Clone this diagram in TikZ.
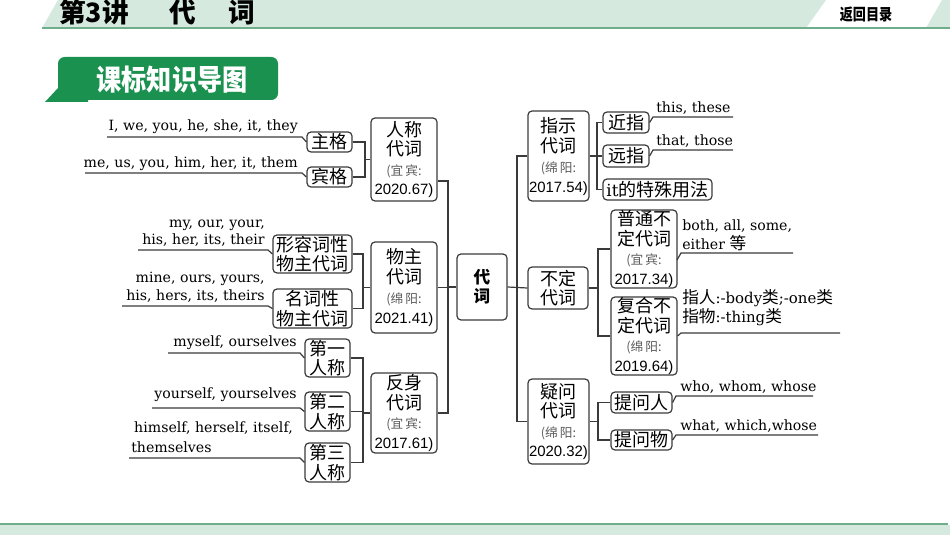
\documentclass[tikz,border=0pt]{standalone}
\usepackage{fontspec}
\setmainfont{DejaVu Serif}
\newfontfamily\cjk{Noto Sans CJK SC}
\newfontfamily\numf{Liberation Sans}
\definecolor{hdr}{HTML}{D5E9DF}
\definecolor{hdrline}{HTML}{6FAE8C}
\definecolor{labg}{HTML}{1B9150}
\definecolor{linec}{HTML}{3A3A3A}
\definecolor{srcc}{HTML}{5A5A5A}
\newcommand\mysrc[1]{{\color{srcc}\cjk\fontsize{9.5}{14.8}\selectfont #1}}
\newcommand\mynum[1]{{\numf\fontsize{11.2}{14.8}\selectfont #1}}
\newcommand\zh[1]{{\cjk\fontsize{12.5}{12}\selectfont #1}}
\tikzset{
  box/.style={draw=linec, line width=0.9pt, rounded corners=3pt, inner sep=0pt,
    align=center, font=\cjk\fontsize{13.5}{14.6}\selectfont},
  conn/.style={draw=linec, line width=0.9pt},
  en/.style={inner sep=0pt, font=\fontsize{10.6}{12}\selectfont, text=black},
}
\begin{document}
\begin{tikzpicture}[x=0.75pt,y=-0.75pt]
\useasboundingbox (0,0) rectangle (950,535);
% header
\fill[hdr] (42,28) -- (58,0) -- (826,0) -- (806,28) -- cycle;
\fill[hdr] (926,28) -- (942,0) -- (950,0) -- (950,28) -- cycle;
\draw[hdrline, line width=1.5pt] (42,28.5) -- (950,28.5);
\node[font=\cjk\bfseries\fontsize{20}{20}\selectfont, inner sep=0pt] (title1) at (94,12.5) {第3讲};
\node[font=\cjk\bfseries\fontsize{20}{20}\selectfont, inner sep=0pt] (title2) at (182.5,12.5) {代};
\node[font=\cjk\bfseries\fontsize{20}{20}\selectfont, inner sep=0pt] (title3) at (241.5,12.5) {词};
\node[font=\cjk\bfseries\fontsize{12}{12}\selectfont, inner sep=0pt] (back) at (866,15) {\scalebox{0.82}[1]{返回目录}};
% footer
\fill[hdr] (0,525) rectangle (950,535);
\draw[hdrline, line width=1.5pt] (0,524) -- (948,524);
% label
\fill[labg] (58,88) -- (45,102) -- (88,102) -- (88,95) -- cycle;
\fill[labg, rounded corners=5pt] (58,57) rectangle (278,100);
\node[font=\cjk\bfseries\fontsize{20.5}{20}\selectfont, text=white, inner sep=0pt] (lab) at (172,80) {\scalebox{0.92}[1.05]{课标知识导图}};

% ===== center =====
\node[box, minimum width=50*0.75pt, minimum height=66*0.75pt, font=\cjk\bfseries\fontsize{12.5}{14.3}\selectfont] (dai) at (482,287) {代\\词};

% ===== left =====
\node[box, minimum width=66*0.75pt, minimum height=83*0.75pt] (renchen) at (404,159.5) {人称\\代词\\\mysrc{(宜\,宾:}\\\mynum{2020.67)}};
\node[box, minimum width=45*0.75pt, minimum height=20*0.75pt] (zhuge) at (329.5,142) {主格};
\node[box, minimum width=45*0.75pt, minimum height=20*0.75pt] (binge) at (329.5,177) {宾格};

\node[box, minimum width=66*0.75pt, minimum height=91*0.75pt, font=\cjk\fontsize{13.5}{15}\selectfont] (wuzhu) at (404,287.5) {物主\\代词\\\mysrc{(绵\,阳:}\\\mynum{2021.41)}};
\node[box, minimum width=79*0.75pt, minimum height=38*0.75pt] (xingrong) at (312.5,254) {形容词性\\物主代词};
\node[box, minimum width=79*0.75pt, minimum height=39*0.75pt] (mingci) at (312.5,308.5) {名词性\\物主代词};

\node[box, minimum width=66*0.75pt, minimum height=80*0.75pt] (fanshen) at (404,413) {反身\\代词\\\mysrc{(宜\,宾:}\\\mynum{2017.61)}};
\node[box, minimum width=45*0.75pt, minimum height=38*0.75pt] (di1) at (327.5,358) {第一\\人称};
\node[box, minimum width=45*0.75pt, minimum height=39*0.75pt] (di2) at (327.5,411.5) {第二\\人称};
\node[box, minimum width=45*0.75pt, minimum height=39*0.75pt] (di3) at (327.5,462.5) {第三\\人称};

% left texts
\node[en, anchor=base east] (tzg) at (298,131) {I, we, you, he, she, it, they};
\node[en, anchor=base east] (tbg) at (298,167) {me, us, you, him, her, it, them};
\node[en, anchor=base east] (txr1) at (265,227) {my, our, your,};
\node[en, anchor=base east] (txr2) at (265,244.5) {his, her, its, their};
\node[en, anchor=base east] (tmc1) at (265,282) {mine, ours, yours,};
\node[en, anchor=base east] (tmc2) at (265,300) {his, hers, its, theirs};
\node[en, anchor=base east] (td1) at (297,346) {myself, ourselves};
\node[en, anchor=base east] (td2) at (297,398.5) {yourself, yourselves};
\node[en, anchor=base east] (td3a) at (293,432) {himself, herself, itself,};
\node[en, anchor=base west] (td3b) at (131,452) {themselves};

\coordinate (u1a) at (107,137);  \coordinate (u1b) at (302,137);
\coordinate (u2a) at (85,173);   \coordinate (u2b) at (302,173);
\coordinate (u3a) at (138,250);  \coordinate (u3b) at (268,250);
\coordinate (u4a) at (122,306);  \coordinate (u4b) at (268,306);
\coordinate (u5a) at (168,353);  \coordinate (u5b) at (300,353);
\coordinate (u6a) at (152,408);  \coordinate (u6b) at (300,408);
\coordinate (u7a) at (129,458);  \coordinate (u7b) at (300,458);
\draw[conn] (zhuge.west) -- (u1b) -- (u1a);
\draw[conn] (binge.west) -- (u2b) -- (u2a);
\draw[conn] (xingrong.west) -- (u3b) -- (u3a);
\draw[conn] (mingci.west) -- (u4b) -- (u4a);
\draw[conn] (di1.west) -- (u5b) -- (u5a);
\draw[conn] (di2.west) -- (u6b) -- (u6a);
\draw[conn] (di3.west) -- (u7b) -- (u7a);

% left brackets
\coordinate (j1) at (365,159.5);
\draw[conn] (zhuge.east) -| (j1) |- (binge.east);
\draw[conn] (j1) -- (renchen.west);
\coordinate (j2) at (363,287.5);
\draw[conn] (xingrong.east) -| (j2) |- (mingci.east);
\draw[conn] (j2) -- (wuzhu.west);
\coordinate (j3) at (363,413);
\draw[conn] (di1.east) -| (j3) |- (di3.east);
\draw[conn] (di2.east) -- (di2.east -| j3);
\draw[conn] (j3) -- (fanshen.west);

% left trunk
\coordinate (L1) at (448,181);
\coordinate (L3) at (448,413);
\draw[conn] (renchen.east |- L1) -- (L1) -- (L3) -- (fanshen.east);
\draw[conn] (wuzhu.east) -- (wuzhu.east -| L1);
\draw[conn] (dai.west) -- (dai.west -| L1);

% ===== right =====
\node[box, minimum width=61*0.75pt, minimum height=90*0.75pt, font=\cjk\fontsize{13.5}{15}\selectfont] (zhishi) at (558.5,156) {指示\\代词\\\mysrc{(绵\,阳:}\\\mynum{2017.54)}};
\node[box, minimum width=46*0.75pt, minimum height=21*0.75pt] (jinzhi) at (626,122.5) {近指};
\node[box, minimum width=46*0.75pt, minimum height=22*0.75pt] (yuanzhi) at (626,156) {远指};
\node[box, minimum width=109*0.75pt, minimum height=21*0.75pt] (itbox) at (657.5,189.5) {{\rmfamily\fontsize{12.5}{14}\selectfont it}的特殊用法};

\node[box, minimum width=60*0.75pt, minimum height=42*0.75pt] (buding) at (558,288) {不定\\代词};
\node[box, minimum width=66*0.75pt, minimum height=78*0.75pt] (putong) at (644,249) {普通不\\定代词\\\mysrc{(宜\,宾:}\\\mynum{2017.34)}};
\node[box, minimum width=66*0.75pt, minimum height=78*0.75pt] (fuhe) at (644,336) {复合不\\定代词\\\mysrc{(绵\,阳:}\\\mynum{2019.64)}};

\node[box, minimum width=61*0.75pt, minimum height=85*0.75pt] (yiwen) at (558.5,421.5) {疑问\\代词\\\mysrc{(绵\,阳:}\\\mynum{2020.32)}};
\node[box, minimum width=61*0.75pt, minimum height=21*0.75pt] (tiren) at (641.5,402.5) {提问人};
\node[box, minimum width=61*0.75pt, minimum height=20*0.75pt] (tiwu) at (641.5,440) {提问物};

% right texts
\node[en, anchor=base west] (tjz) at (656,113) {this, these};
\node[en, anchor=base west] (tyz) at (656,145.5) {that, those};
\node[en, anchor=base west] (tpt1) at (682,230) {both, all, some,};
\node[en, anchor=base west] (tpt2) at (682,249) {either \zh{等}};
\node[en, anchor=base west, font=\fontsize{11.2}{12}\selectfont] (tfh1) at (682,303) {\zh{指人}:-body\zh{类};-one\zh{类}};
\node[en, anchor=base west, font=\fontsize{11.2}{12}\selectfont] (tfh2) at (682,322) {\zh{指物}:-thing\zh{类}};
\node[en, anchor=base west] (tren) at (680,391) {who, whom, whose};
\node[en, anchor=base west] (twu) at (680,430) {what, which,whose};

\coordinate (v1a) at (653,117);  \coordinate (v1b) at (733,117);
\coordinate (v2a) at (653,150);  \coordinate (v2b) at (733,150);
\coordinate (v3e) at (677,260);  \coordinate (v3a) at (681,253);  \coordinate (v3b) at (793,253);
\coordinate (v4a) at (681,333);  \coordinate (v4b) at (840,333);
\coordinate (v5a) at (676,396);  \coordinate (v5b) at (813,396);
\coordinate (v6a) at (676,435);  \coordinate (v6b) at (818,435);
\draw[conn] (jinzhi.east) -- (v1a) -- (v1b);
\draw[conn] (yuanzhi.east) -- (v2a) -- (v2b);
\draw[conn] (v3e) -- (v3a) -- (v3b);
\draw[conn] (fuhe.east) -- (v4a) -- (v4b);
\draw[conn] (tiren.east) -- (v5a) -- (v5b);
\draw[conn] (tiwu.east) -- (v6a) -- (v6b);

% right brackets
\coordinate (k1) at (597,156);
\draw[conn] (jinzhi.west) -| (k1) |- (itbox.west);
\draw[conn] (zhishi.east) -- (yuanzhi.west);
\coordinate (k2) at (598,288);
\draw[conn] (putong.west) -| (k2) |- (fuhe.west);
\draw[conn] (buding.east) -- (k2);
\coordinate (k3) at (598,421.5);
\draw[conn] (tiren.west) -| (k3) |- (tiwu.west);
\draw[conn] (yiwen.east) -- (k3);

% right trunk
\coordinate (R1) at (517,156);
\coordinate (R3) at (517,421.5);
\draw[conn] (zhishi.west) -- (R1) -- (R3) -- (yiwen.west);
\draw[conn] (dai.east) -- (buding.west);
\end{tikzpicture}
\end{document}
